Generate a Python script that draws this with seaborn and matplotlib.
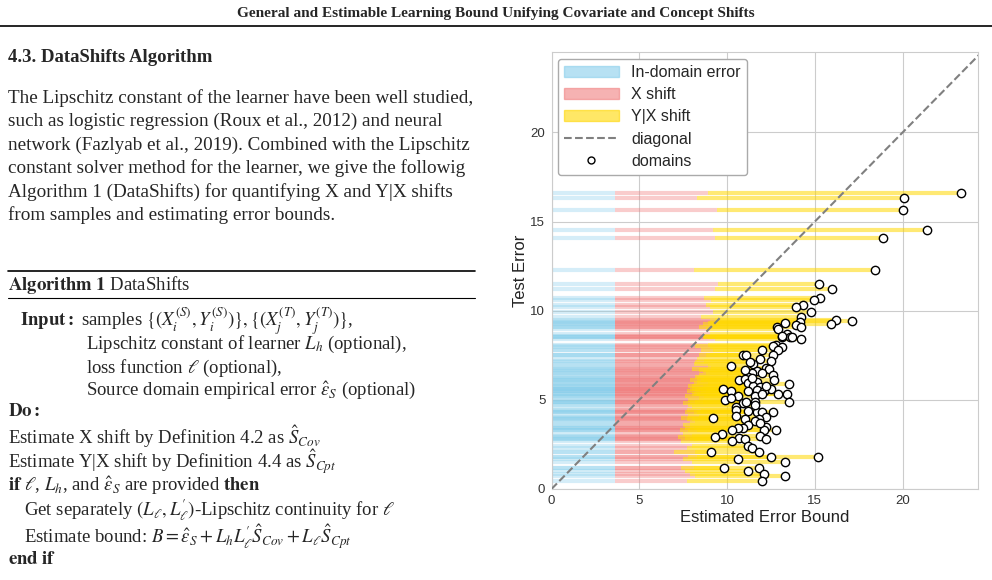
import matplotlib
matplotlib.use("Agg")
import matplotlib.pyplot as plt
import seaborn as sns
import numpy as np
from matplotlib.patches import Patch
from matplotlib.lines import Line2D

# ---- data ----
test_error = [16.6,16.3,15.66,14.5,14.1,12.3,11.5,11.2,10.7,10.6,10.3,10.2,9.94,9.66,9.5,9.4,9.34,9.3,9.28,9.2,9.06,9.06,
              9.0,8.7,8.5,8.4,8.5,8.1,8.0,7.95,7.8,7.77,7.5,7.5,7.5,7.2,7.3,6.9,7.0,6.8,6.6,6.75,6.5,6.4,6.5,6.3,6.1,6.15,6.1,5.9,
              6.0,5.95,5.8,5.7,5.6,5.6,5.5,5.5,5.55,5.6,5.5,5.3,5.3,5.2,5.2,5.3,5.0,5.1,4.9,4.8,4.85,4.9,4.6,4.45,4.4,4.3,4.3,4.3,
              4.1,4.0,3.9,4.05,3.95,3.8,3.5,3.6,3.4,3.4,3.3,3.3,3.3,3.1,2.9,2.95,2.85,2.8,2.7,2.8,2.4,2.3,2.1,2.05,1.8,1.7,1.8,1.5,
              1.2,1.2,1.0,0.85,0.7,0.45,8.6,8.55,6.2,5.75,4.7,3.7,6.7,7.1]
error_bound = [23.3,20.1,20.0,21.4,18.9,18.45,15.25,16.0,15.3,14.95,14.3,13.9,14.8,14.2,16.2,17.1,14.15,13.3,15.9,13.9,12.87,14.2,
               12.9,13.4,13.6,14.2,13.1,12.8,12.6,13.1,12.9,11.97,10.9,11.1,12.6,12.5,11.9,10.2,11.5,12.2,11.7,12.4,11.4,12.6,12.0,11.2,10.7,11.0,12.7,13.5,
               11.7,11.2,11.5,11.9,9.75,12.3,10.2,11.2,11.7,12.5,12.1,13.4,12.9,10.6,11.6,12.0,9.9,10.2,13.5,10.9,11.1,11.6,10.5,10.5,11.2,11.7,12.0,12.6,
               10.5,9.2,11.0,12.2,11.8,11.6,12.2,11.2,10.9,10.6,10.3,12.8,12.1,9.7,9.3,11.9,10.7,11.0,10.3,12.2,11.2,11.4,9.1,11.8,12.5,10.6,15.2,13.3,
               9.8,11.8,11.2,12.1,13.3,11.97,13.1,13.7,11.4,12.2,11.6,11.9,11.0,11.3]
xshift_end = [8.9,8.3,9.4,9.2,9.3,8.1,9.5,9.3,8.7,9.1,8.8,9.0,9.2,8.5,9.3,9.0,9.4,8.9,8.6,9.1,8.4,9.2,
              8.8,9.0,8.6,9.3,8.7,8.9,8.2,9.0,8.5,9.2,8.8,8.4,9.0,8.7,8.3,8.9,8.1,9.1,8.6,8.0,8.8,8.4,9.0,8.2,7.9,8.7,8.5,8.9,
              8.3,8.1,7.8,8.6,8.0,8.4,7.7,8.8,8.2,7.9,8.5,8.3,8.0,7.6,8.7,8.1,7.8,8.4,8.6,7.5,8.2,7.9,8.0,7.7,8.5,8.3,7.6,8.1,
              7.8,7.4,8.0,8.4,7.7,8.2,7.9,7.5,8.1,7.6,7.3,8.3,7.8,7.5,7.2,8.0,7.6,7.9,7.4,8.1,8.0,7.7,7.0,8.2,7.8,7.5,8.3,8.0,
              7.4,8.1,7.6,7.9,8.2,7.7,8.6,8.9,8.3,8.0,7.8,7.9,8.4,8.2]
in_domain_error = 3.6
axis_ticks = [0, 5, 10, 15, 20]

# ---- figure ----
sns.set_style("whitegrid")
plt.rcParams['mathtext.fontset'] = 'stix'
plt.rcParams['font.family'] = ['Liberation Sans', 'DejaVu Sans']
fig = plt.figure(figsize=(9.92, 5.8), dpi=100)
ax = fig.add_axes([0.556, 0.157, 0.430, 0.753])

y = np.array(test_error)
ax.hlines(y, 0, in_domain_error, color="#87CEEB", lw=3, alpha=0.35, zorder=2)
ax.hlines(y, in_domain_error, xshift_end, color="#F08080", lw=3, alpha=0.4, zorder=2)
ax.hlines(y, xshift_end, error_bound, color="#FFD700", lw=3, alpha=0.55, zorder=2)
ax.plot([0, 25], [0, 25], ls="--", color="gray", lw=1.5, zorder=3)
sns.scatterplot(x=error_bound, y=test_error, ax=ax, s=36, facecolor="white",
                edgecolor="black", linewidth=1.0, zorder=4)
ax.set_xlim(0, 24.3)
ax.set_ylim(0, 24.5)
ax.set_xticks(axis_ticks)
ax.set_yticks(axis_ticks)
ax.tick_params(labelsize=9.5, colors="#333333", pad=1)
ax.set_xlabel("Estimated Error Bound", fontsize=12, labelpad=2, color="#222222")
ax.set_ylabel("Test Error", fontsize=12, labelpad=2, color="#222222")
for s in ax.spines.values():
    s.set_color("#cccccc")

handles = [Patch(color="#87CEEB", alpha=0.6), Patch(color="#F08080", alpha=0.6),
           Patch(color="#FFD700", alpha=0.6),
           Line2D([], [], ls="--", color="gray", lw=1.5),
           Line2D([], [], ls="", marker="o", mfc="white", mec="black", ms=5)]
ax.legend(handles, ["In-domain error", "X shift", "Y|X shift", "diagonal", "domains"],
          loc="upper left", fontsize=11.5, frameon=True, framealpha=1, edgecolor="#aaaaaa",
          borderaxespad=0.4, handlelength=3.4, labelspacing=0.45)

# ---- page text ----
serif = "Liberation Serif"
def T(x, ytop, s, **kw):
    fig.text(x / 992, 1 - ytop / 580, s, family=serif, va="center", **kw)

T(496, 14, "General and Estimable Learning Bound Unifying Covariate and Concept Shifts",
  ha="center", fontsize=11, weight="bold")
fig.add_artist(Line2D([0, 1], [1 - 26 / 580] * 2, color="black", lw=1.2))
T(8, 58, "4.3. DataShifts Algorithm", fontsize=13.5, weight="bold")
para = ["The Lipschitz constant of the learner have been well studied,",
        "such as logistic regression (Roux et al., 2012) and neural",
        "network (Fazlyab et al., 2019). Combined with the Lipschitz",
        "constant solver method for the learner, we give the followig",
        "Algorithm 1 (DataShifts) for quantifying X and Y|X shifts",
        "from samples and estimating error bounds."]
for i, s in enumerate(para):
    T(8, 98 + i * 23.5, s, fontsize=13.8)
fig.add_artist(Line2D([8 / 992, 475 / 992], [1 - 271 / 580] * 2, color="black", lw=1.2))
fig.add_artist(Line2D([8 / 992, 475 / 992], [1 - 298 / 580] * 2, color="black", lw=0.8))
T(8, 285, r"$\mathbf{Algorithm\ 1}$ DataShifts", fontsize=13.5)
alg = [(20, 321, r"$\mathbf{Input:}$ samples $\{(X_i^{(S)},Y_i^{(S)})\},\{(X_j^{(T)},Y_j^{(T)})\}$,"),
       (86, 344, r"Lipschitz constant of learner $L_h$ (optional),"),
       (86, 368, r"loss function $\ell$ (optional),"),
       (86, 390, r"Source domain empirical error $\hat{\epsilon}_S$ (optional)"),
       (8, 412, r"$\mathbf{Do:}$"),
       (8, 437, r"Estimate X shift by Definition 4.2 as $\hat{S}_{Cov}$"),
       (8, 462, r"Estimate Y|X shift by Definition 4.4 as $\hat{S}_{Cpt}$"),
       (8, 486, r"$\mathbf{if}$ $\ell$, $L_h$, and $\hat{\epsilon}_S$ are provided $\mathbf{then}$"),
       (24, 510, r"Get separately $(L_\ell, L_\ell^{\prime})$-Lipschitz continuity for $\ell$"),
       (24, 537, r"Estimate bound: $B=\hat{\epsilon}_S+L_hL_\ell^{\prime}\hat{S}_{Cov}+L_\ell\hat{S}_{Cpt}$"),
       (8, 560, r"$\mathbf{end\ if}$")]
for x0, y0, s in alg:
    T(x0, y0, s, fontsize=13.5)

fig.savefig("out.png", dpi=100)
